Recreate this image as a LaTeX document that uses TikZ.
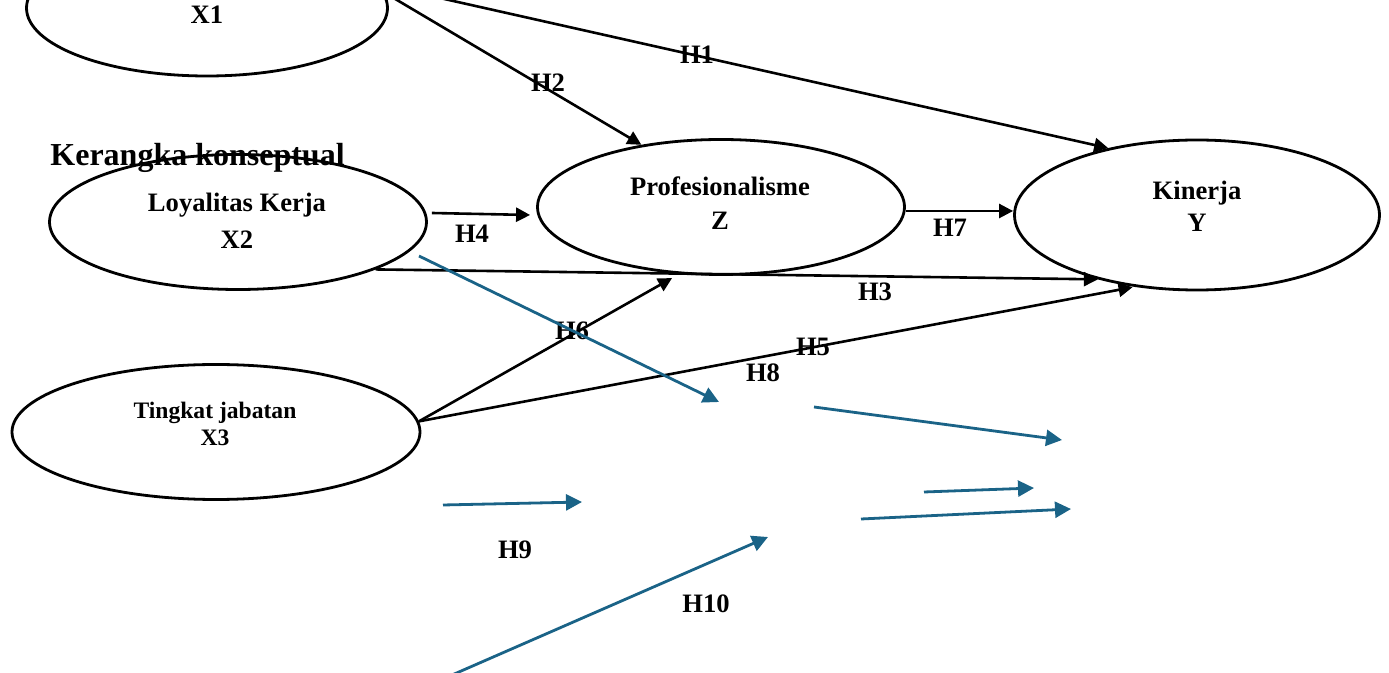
\documentclass[tikz,border=0pt]{standalone}
\usepackage{fontspec}
\setmainfont{Liberation Serif}
\usetikzlibrary{shapes.geometric,arrows.meta,calc}

\definecolor{hblue}{RGB}{26,99,135}

\tikzstyle{myellipse} = [draw=black, ellipse, line width=1.4pt, inner sep=0pt]
\tikzstyle{mytext} = [font=\bfseries\fontsize{13.3}{17}\selectfont, align=center, inner sep=0pt]
\tikzstyle{myarrow} = [draw=black, line width=1.3pt, -{Triangle[length=7pt,width=7pt]}]
\tikzstyle{bluearrow} = [draw=hblue, line width=1.4pt, -{Triangle[length=8pt,width=8pt]}]

\begin{document}
\begin{tikzpicture}[x=0.5pt,y=-0.5pt]
\useasboundingbox (0,0) rectangle (1389,673);

% variables
\node[myellipse, minimum width=180.5pt, minimum height=68pt] (x1) at (207,8) {};
\node[myellipse, minimum width=188.5pt, minimum height=67.5pt] (x2) at (238,222) {};
\node[myellipse, minimum width=204pt, minimum height=67.5pt] (x3) at (216,432) {};
\node[myellipse, minimum width=183.5pt, minimum height=67.5pt] (z) at (721,207) {};
\node[myellipse, minimum width=182.5pt, minimum height=75pt] (y) at (1197,215) {};

\node[mytext] (x1text) at (207,15) {X1};
\node[mytext] (x2text) at (237,221) {Loyalitas Kerja\\[1.5pt]X2};
\node[mytext, font=\bfseries\fontsize{11.8}{13.5}\selectfont] (x3text) at (215,424) {Tingkat jabatan\\X3};
\node[mytext] (ztext) at (720,203) {Profesionalisme\\Z};
\node[mytext, font=\bfseries\fontsize{13.3}{16}\selectfont] (ytext) at (1197,206) {Kinerja\\Y};

\node[mytext, font=\bfseries\fontsize{16}{19}\selectfont, anchor=base west] (title) at (50,166) {Kerangka konseptual};

% hypotheses
\draw[myarrow] (x1.8) -- (y.143);
\draw[myarrow] (x1.5) -- (z.142);
\draw[myarrow] ($(x2.east)+(4,-9)$) -- ($(z.west)+(-6,8)$);
\draw[myarrow] ($(z.east)+(0,4)$) -- ($(y.west)+(0,-4)$);
\draw[myarrow] (x2.-19) -- (y.213);
\draw[myarrow, shorten >=4pt] (x3.3) -- (z.238);
\draw[myarrow, shorten >=1pt] (x3.3) -- (y.229);

\node[mytext] (h1) at (697,55) {H1};
\node[mytext] (h2) at (548,83) {H2};
\node[mytext] (h4) at (472,234) {H4};
\node[mytext] (h7) at (950,228) {H7};
\node[mytext] (h3) at (875,292) {H3};
\node[mytext] (h6) at (572,331) {H6};
\node[mytext] (h5) at (813,347) {H5};
\node[mytext] (h8) at (763,373) {H8};
\node[mytext] (h9) at (515,550) {H9};
\node[mytext] (h10) at (706,604) {H10};

% mediation arrows
\coordinate (b1s) at (419,256);  \coordinate (b1e) at (719,402);
\coordinate (b2s) at (814,407);  \coordinate (b2e) at (1062,440);
\coordinate (b3s) at (924,492);  \coordinate (b3e) at (1034,488);
\coordinate (b4s) at (861,519);  \coordinate (b4e) at (1071,509);
\coordinate (b5s) at (443,505);  \coordinate (b5e) at (582,502);
\coordinate (b6s) at (452,675);  \coordinate (b6e) at (768,537);
\foreach \i in {1,...,6}
  \draw[bluearrow] (b\i s) -- (b\i e);
\end{tikzpicture}
\end{document}
